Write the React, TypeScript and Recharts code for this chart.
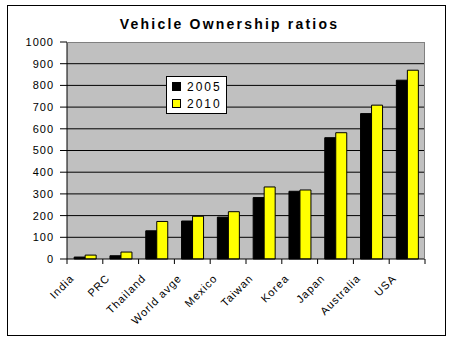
import { BarChart, Bar, XAxis, YAxis, CartesianGrid, Legend } from "recharts";

const countries = [
  "India",
  "PRC",
  "Thailand",
  "World avge",
  "Mexico",
  "Taiwan",
  "Korea",
  "Japan",
  "Australia",
  "USA",
];
const ratios2005 = [9, 15, 130, 175, 193, 283, 312, 559, 670, 824];
const ratios2010 = [18, 32, 173, 197, 218, 332, 318, 582, 709, 870];
const yTicks = [0, 100, 200, 300, 400, 500, 600, 700, 800, 900, 1000];

const chartData = countries.map((name, i) => ({
  name,
  y2005: ratios2005[i],
  y2010: ratios2010[i],
}));

const FONT = "'Liberation Sans', Arial, sans-serif";

// Excel style: tick marks sit on the category boundaries, labels at 45 degrees
function CategoryTick(props: any) {
  const { x, y, payload, index, visibleTicksCount, width } = props;
  const band = visibleTicksCount ? width / visibleTicksCount : 36;
  const tx = x - 10;
  const ty = y + 20;
  return (
    <g>
      <line x1={x - band / 2} x2={x - band / 2} y1={y} y2={y + 5} stroke="#000" />
      {index === visibleTicksCount - 1 && (
        <line x1={x + band / 2} x2={x + band / 2} y1={y} y2={y + 5} stroke="#000" />
      )}
      <text
        x={tx}
        y={ty}
        transform={`rotate(-45, ${tx}, ${ty})`}
        textAnchor="end"
        fontFamily={FONT}
        fontSize={11}
        letterSpacing={1}
        fill="#000"
      >
        {payload.value}
      </text>
    </g>
  );
}

function LegendBox() {
  const rows = [
    { label: "2005", color: "#000000" },
    { label: "2010", color: "#FFFF00" },
  ];
  return (
    <div
      style={{
        border: "1px solid #000",
        background: "#fff",
        width: 59,
        height: 35,
        boxSizing: "content-box",
        paddingTop: 1,
      }}
    >
      {rows.map((r) => (
        <div
          key={r.label}
          style={{ display: "flex", alignItems: "center", height: 17, paddingLeft: 5 }}
        >
          <span
            style={{
              width: 7,
              height: 7,
              background: r.color,
              border: "1px solid #000",
              marginRight: 6,
            }}
          />
          <span style={{ fontFamily: FONT, fontSize: 12, letterSpacing: 2, color: "#000" }}>
            {r.label}
          </span>
        </div>
      ))}
    </div>
  );
}

export default function App() {
  return (
    <div
      style={{
        position: "fixed",
        left: 0,
        top: 0,
        width: 459,
        height: 344,
        background: "#fff",
      }}
    >
      <div
        style={{
          position: "absolute",
          left: 7,
          top: 5,
          width: 437,
          height: 329,
          border: "1px solid #000",
        }}
      />
      <div
        style={{
          position: "absolute",
          left: 0,
          width: 459,
          top: 16,
          textAlign: "center",
          fontFamily: FONT,
          fontWeight: "bold",
          fontSize: 14,
          letterSpacing: 2.2,
          color: "#000",
        }}
      >
        Vehicle Ownership ratios
      </div>
      <div style={{ position: "absolute", left: 0, top: 0 }}>
        <BarChart
          width={459}
          height={344}
          data={chartData}
          margin={{ top: 42, right: 34, left: 7, bottom: 25 }}
          barCategoryGap="20%"
          barGap={0}
        >
          <CartesianGrid
            vertical={false}
            horizontalValues={[100, 200, 300, 400, 500, 600, 700, 800, 900]}
            stroke="#000"
            fill="#C0C0C0"
            fillOpacity={1}
          />
          <XAxis
            dataKey="name"
            interval={0}
            height={60}
            tickSize={0}
            tickMargin={0}
            tickLine={false}
            axisLine={{ stroke: "#000" }}
            tick={<CategoryTick />}
          />
          <YAxis
            domain={[0, 1000]}
            ticks={yTicks}
            interval={0}
            width={60}
            tickSize={7}
            tickMargin={6}
            axisLine={{ stroke: "#000" }}
            tickLine={{ stroke: "#000" }}
            tick={{ fill: "#000", fontSize: 11, fontFamily: FONT, letterSpacing: 1 }}
          />
          <Legend
            layout="vertical"
            align="center"
            verticalAlign="middle"
            content={<LegendBox />}
            wrapperStyle={{ left: 166, top: 76, width: 61 }}
          />
          <Bar
            dataKey="y2005"
            name="2005"
            fill="#000000"
            stroke="#000"
            strokeWidth={1}
            isAnimationActive={false}
          />
          <Bar
            dataKey="y2010"
            name="2010"
            fill="#FFFF00"
            stroke="#000"
            strokeWidth={1}
            isAnimationActive={false}
          />
        </BarChart>
      </div>
      <div
        style={{
          position: "absolute",
          left: 67,
          top: 42,
          width: 357,
          height: 216,
          borderTop: "1px solid #808080",
          borderRight: "1px solid #808080",
          pointerEvents: "none",
        }}
      />
    </div>
  );
}
